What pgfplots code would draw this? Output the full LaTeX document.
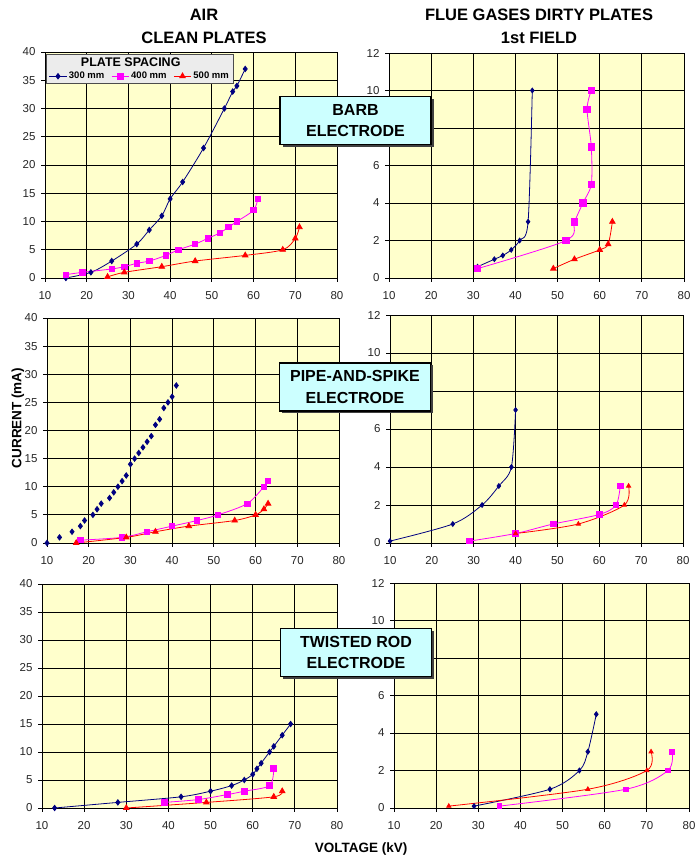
\documentclass[border=0pt]{standalone}
\usepackage{pgfplots}
\pgfplotsset{compat=1.18}
\usepackage{fontspec}
\setmainfont{Liberation Sans}
\usetikzlibrary{shadows}
\definecolor{bgyellow}{HTML}{FFFFCC}
\definecolor{navy}{HTML}{000080}
\definecolor{mag}{HTML}{FF00FF}
\definecolor{cyanbox}{HTML}{CCFFFF}
\pgfplotsset{
  panel/.style={scale only axis, anchor=south west,
    axis background/.style={fill=bgyellow},
    xmin=10, xmax=80, xtick={10,20,...,80},
    grid=major, major grid style={black, line width=0.8pt},
    axis line style={black, line width=0.8pt},
    tick style={black, line width=0.8pt},
    tick align=outside, major tick length=4pt,
    xtick pos=left, ytick pos=left,
    ticklabel style={font=\fontsize{11.5}{13}\selectfont, text=black!85},
    xticklabel style={yshift=-5.5pt},
    yticklabel style={xshift=-2pt},
    /pgf/number format/assume math mode=true,
  },
  leftp/.style={panel, ymin=0, ymax=40, ytick={0,5,...,40}},
  rightp/.style={panel, ymin=0, ymax=12, ytick={0,2,...,12}},
  s3/.style={color=navy, line width=0.8pt, smooth, mark=diamond*, mark size=2.7pt, mark options={solid, fill=navy}},
  s4/.style={color=mag, line width=0.8pt, smooth, mark=square*, mark size=2.7pt, mark options={solid, fill=mag}},
  s5/.style={color=red, line width=0.8pt, smooth, mark=triangle*, mark size=3.2pt, mark options={solid, fill=red}},
}
\begin{document}
\begin{tikzpicture}[x=1pt,y=1pt]
\useasboundingbox (0pt,0pt) rectangle (696pt,861pt);

% ---------- Row 1 left: BARB, AIR ----------
\begin{axis}[leftp, at={(45pt,583pt)}, width=292pt, height=226pt,
  legend columns=3,
  legend style={at={(axis description cs:0.004,0.991)}, anchor=north west,
    fill=gray!15, draw=black!70, line width=0.8pt,
    font=\fontsize{9.5}{10.5}\selectfont\bfseries,
    inner xsep=2.5pt, inner ysep=1.5pt, row sep=0pt,
    /tikz/every even column/.append style={column sep=5pt}},
  legend cell align=left]
\addlegendimage{empty legend}
\addlegendentry{\makebox[0pt][l]{\hspace*{12pt}\fontsize{12.5}{14}\selectfont PLATE SPACING}}
\addlegendimage{empty legend}
\addlegendentry{\mbox{}}
\addlegendimage{empty legend}
\addlegendentry{\mbox{}}
\addplot[s3] coordinates {(15,0) (21,1) (26,3) (32,6) (35,8.5) (38,11) (40,14) (43,17) (48,23) (53,30) (55,33) (56,34) (58,37)};
\addlegendentry{300 mm}
\addplot[s4] coordinates {(15,0.6) (19,1) (26,1.6) (29,2) (32,2.6) (35,3) (39,4) (42,5) (46,6) (49,7) (52,8) (54,9) (56,10) (60,12) (61,14)};
\addlegendentry{400 mm}
\addplot[s5] coordinates {(25,0.2) (29,1) (38,2) (46,3) (58,4) (67,5) (70,7) (71,9)};
\addlegendentry{500 mm}
\end{axis}

% ---------- Row 1 right: BARB, FLUE ----------
\begin{axis}[rightp, at={(389pt,583pt)}, width=295pt, height=225pt]
\addplot[s3, mark size=2.4pt] coordinates {(31,0.6) (35,1) (37,1.2) (39,1.5) (41,2) (43,3) (44,10)};
\addplot[s4, mark size=3.2pt] coordinates {(31,0.5) (52,2) (54,3) (56,4) (58,5) (58,7) (57,9) (58,10)};
\addplot[s5] coordinates {(49,0.5) (54,1) (60,1.5) (62,1.8) (63,3)};
\end{axis}

% ---------- Row 2 left: PIPE-AND-SPIKE, AIR ----------
\begin{axis}[leftp, at={(47pt,318pt)}, width=292pt, height=225pt]
\addplot[s3, only marks] coordinates {(10,0) (13,1) (16,2) (18,3) (19,4) (21,5) (22,6) (23,7) (25,8) (26,9) (27,10) (28,11) (29,12) (30,14) (31,15) (32,16) (33,17) (34,18) (35,19) (36,21) (37,22) (38,24) (39,25) (40,26) (41,28)};
\addplot[s4] coordinates {(18,0.5) (28,1) (34,2) (40,3) (46,4) (51,5) (58,7) (62,10) (63,11)};
\addplot[s5] coordinates {(17,0) (29,1) (36,2) (44,3) (55,4) (60,5) (62,6) (63,7)};
\end{axis}

% ---------- Row 2 right: PIPE-AND-SPIKE, FLUE ----------
\begin{axis}[rightp, at={(390pt,318pt)}, width=293pt, height=228pt]
\addplot[s3, mark size=2.4pt] coordinates {(10,0.1) (25,1) (32,2) (36,3) (39,4) (40,7)};
\addplot[s4] coordinates {(29,0.1) (40,0.5) (49,1) (60,1.5) (64,2) (65,3)};
\addplot[s5, mark size=2.4pt] coordinates {(40,0.5) (55,1) (66,2) (67,3)};
\end{axis}

% ---------- Row 3 left: TWISTED ROD, AIR ----------
\begin{axis}[leftp, at={(42pt,53pt)}, width=295pt, height=224pt]
\addplot[s3] coordinates {(13,0) (28,1) (43,2) (50,3) (55,4) (58,5) (60,6) (61,7) (62,8) (64,10) (65,11) (67,13) (69,15)};
\addplot[s4, mark size=3pt] coordinates {(39,1) (47,1.5) (54,2.4) (58,3) (64,4) (65,7)};
\addplot[s5] coordinates {(30,0) (49,1) (65,2) (67,3)};
\end{axis}

% ---------- Row 3 right: TWISTED ROD, FLUE ----------
\begin{axis}[rightp, at={(394pt,53pt)}, width=295pt, height=225pt]
\addplot[s3, mark size=2.5pt] coordinates {(29,0.1) (47,1) (54,2) (56,3) (58,5)};
\addplot[s5, mark size=2.4pt] coordinates {(23,0.1) (56,1) (70,2) (71,3)};
\addplot[s4, mark size=2.3pt] coordinates {(35,0.1) (65,1) (75,2) (76,3)};
\end{axis}

% ---------- Titles and labels ----------
\node[font=\fontsize{16.5}{23}\selectfont\bfseries, align=center] at (204pt,834.5pt) {AIR\\CLEAN PLATES};
\node[font=\fontsize{16.5}{23}\selectfont\bfseries, align=center] at (539pt,834.5pt) {FLUE GASES DIRTY PLATES\\1st FIELD};
\node[font=\fontsize{13.5}{15}\selectfont\bfseries, rotate=90] at (18pt,443pt) {CURRENT (mA)};
\node[font=\fontsize{13.5}{15}\selectfont\bfseries] at (361pt,12pt) {VOLTAGE (kV)};

\tikzset{ebox/.style={draw=black, line width=1.2pt, fill=cyanbox, align=center,
  font=\fontsize{16}{21.5}\selectfont\bfseries, minimum width=151pt, minimum height=48pt, inner sep=0pt,
  drop shadow={shadow xshift=2.5pt, shadow yshift=-2.5pt, fill=black!75, opacity=1}}}
\node[ebox] at (355.5pt,740.5pt) {BARB\\ELECTRODE};
\node[ebox] at (355pt,474pt) {PIPE-AND-SPIKE\\ELECTRODE};
\node[ebox] at (356pt,208.5pt) {TWISTED ROD\\ELECTRODE};
\end{tikzpicture}
\end{document}
